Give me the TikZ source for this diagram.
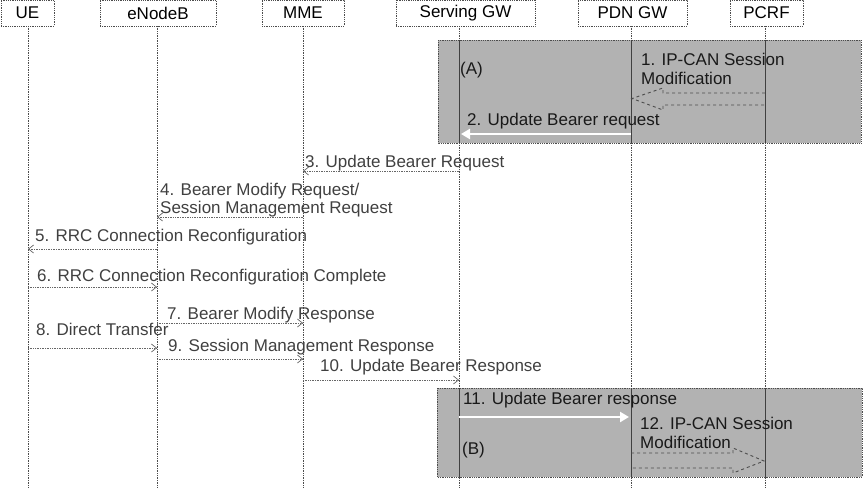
\documentclass[tikz,border=0pt]{standalone}
\usepackage{fontspec}
\setmainfont{Liberation Sans}
\usetikzlibrary{arrows.meta}
\begin{document}
\begin{tikzpicture}[x=1pt,y=-1pt,
 hdr/.style={draw=black!70, densely dotted, line width=0.8pt, minimum height=26pt, inner sep=0pt, font=\fontsize{17}{19}\selectfont, text=black},
 life/.style={draw=black!70, densely dotted, line width=0.7pt},
 lifein/.style={draw=black!75, line width=0.9pt},
 msg/.style={draw=black!60, line width=0.7pt, densely dotted, -{Straight Barb[length=5pt,width=8pt]}},
 lbl/.style={anchor=base west, inner sep=0pt, font=\fontsize{17}{19}\selectfont, text=black!75},
 lblin/.style={lbl, text=black!90},
 region/.style={fill=black!30, draw=black!70, densely dotted, line width=0.8pt},
 wmsg/.style={draw=white, line width=2.5pt, -{Triangle[length=9pt,width=10pt]}},
 blockarrow/.style={draw=black!70, dashed, line width=0.9pt}
]
\useasboundingbox (0,0) rectangle (864,488);
% headers
\node[hdr, minimum width=53pt]  (ue)  at (27.5,13)  {UE};
\node[hdr, minimum width=116pt] (enb) at (158,13)   {eNodeB};
\node[hdr, minimum width=82pt]  (mme) at (303,13)   {MME};
\node[hdr, minimum width=139pt] (sgw) at (465.5,13) {Serving GW};
\node[hdr, minimum width=109pt] (pgw) at (632.5,13) {PDN GW};
\node[hdr, minimum width=73pt]  (pcrf) at (766.5,13) {PCRF};
% lifeline coordinates
\foreach \n/\x in {ue/28, enb/157, mme/303, sgw/459, pgw/631, pcrf/765}{
  \coordinate (\n T) at (\x,26);
  \coordinate (\n B) at (\x,488);
}
\foreach \n in {ue, enb, mme, sgw, pgw, pcrf}{
  \draw[life] (\n T) -- (\n B);
}
% grey regions
\path[region] (438,40) rectangle (861,143);
\path[region] (437,388) rectangle (862,477);
\foreach \n/\x in {sgw/459, pgw/631, pcrf/765}{
  \coordinate (\n A1) at (\x,40);  \coordinate (\n A2) at (\x,143);
  \coordinate (\n B1) at (\x,388); \coordinate (\n B2) at (\x,477);
  \draw[lifein] (\n A1) -- (\n A2);
  \draw[lifein] (\n B1) -- (\n B2);
}
\node[lblin] (la) at (460,74) {(A)};
\node[lblin] (lb) at (462,454) {(B)};
% 1. block arrow PCRF -> PDN GW
\draw[blockarrow] (765,93) -- (663,93) -- (663,88) -- (632,98.5) -- (663,110) -- (663,105) -- (765,105);
\node[lblin] (l1a) at (641,65) {1. IP-CAN Session};
\node[lblin] (l1b) at (641,84) {Modification};
% 2. white arrow
\coordinate (m2a) at (631,134); \coordinate (m2b) at (461,134);
\draw[wmsg] (m2a) -- (m2b);
\node[lblin] (l2) at (467,125) {2. Update Bearer request};
% messages
\foreach \i/\y/\f/\t in {3/171/sgw/mme, 4/217/mme/enb, 5/249/enb/ue, 6/287/ue/enb,
                          7/323/enb/mme, 8/348/ue/enb, 9/359/enb/mme, 10/380/mme/sgw}{
  \coordinate (m\i a) at (\f T |- 0,\y);
  \coordinate (m\i b) at (\t T |- 0,\y);
  \draw[msg] (m\i a) -- (m\i b);
}
\node[lbl] (l3) at (305,167) {3. Update Bearer Request};
\node[lbl] (l4a) at (160,195) {4. Bearer Modify Request/};
\node[lbl] (l4b) at (160,213) {Session Management Request};
\node[lbl] (l5) at (35,241) {5. RRC Connection Reconfiguration};
\node[lbl] (l6) at (37,281) {6. RRC Connection Reconfiguration Complete};
\node[lbl] (l7) at (167,319) {7. Bearer Modify Response};
\node[lbl] (l8) at (36,335) {8. Direct Transfer};
\node[lbl] (l9) at (168,351) {9. Session Management Response};
\node[lbl] (l10) at (320,371) {10. Update Bearer Response};
% 11. white arrow
\coordinate (m11a) at (459,417); \coordinate (m11b) at (629,417);
\draw[wmsg] (m11a) -- (m11b);
\node[lblin] (l11) at (463,404) {11. Update Bearer response};
% 12. block arrow PDN GW -> PCRF
\draw[blockarrow] (631,453) -- (733,453) -- (733,448) -- (764,461) -- (733,473) -- (733,468) -- (631,468);
\node[lblin] (l12a) at (640,429) {12. IP-CAN Session};
\node[lblin] (l12b) at (640,448) {Modification};
\end{tikzpicture}
\end{document}
